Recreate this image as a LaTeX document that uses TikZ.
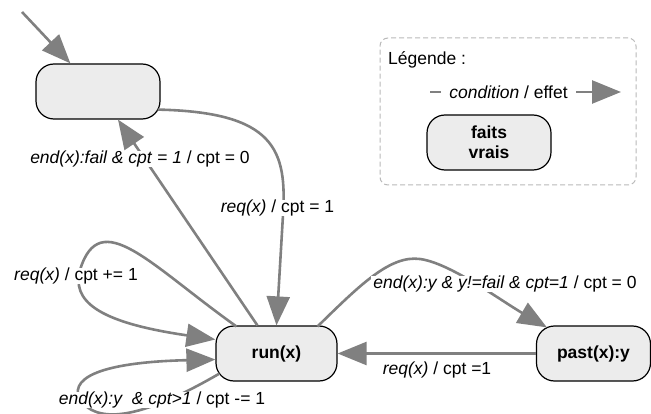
\documentclass[tikz,border=0pt]{standalone}
\usepackage{fontspec}
\setmainfont{Liberation Sans}
\usetikzlibrary{arrows.meta,calc}
\definecolor{edgegray}{RGB}{128,128,128}
\definecolor{nodefill}{RGB}{236,236,236}
\definecolor{legendgray}{RGB}{185,185,185}
\begin{document}
\begin{tikzpicture}[x=1pt,y=-1pt,
  state/.style={draw=black, line width=1.2pt, fill=nodefill, rounded corners=18pt,
    minimum height=55pt, inner sep=0pt, align=center,
    font=\fontsize{17.5}{20}\selectfont\bfseries},
  trans/.style={draw=edgegray, line width=2.6pt, -{Triangle[length=29pt,width=23pt]}},
  lbl/.style={fill=white, inner xsep=2pt, inner ysep=0pt, font=\fontsize{17.5}{20}\selectfont},
]
\useasboundingbox (0,0) rectangle (651,414);

% legend frame
\node[draw=legendgray, dash pattern=on 5pt off 3pt, rounded corners=8pt, line width=1pt,
  minimum width=256pt, minimum height=147pt, inner sep=0pt] (legbox) at (508,111.5) {};

% states
\node[state, minimum width=124pt] (init) at (98,91.5) {};
\node[state, minimum width=121pt] (run) at (276.5,353.5) {run(x)};
\node[state, minimum width=114pt] (past) at (593.5,353.5) {past(x):y};
\node[state, minimum width=124pt] (leg) at (489,142.5) {faits\\vrais};

% initial arrow
\coordinate (start) at (22,12);
\draw[trans] (start) -- ($(init.north west)+(35,0)$);

% init -> run
\draw[trans] ($(init.south east)+(-3,-10)$) .. controls (275,112) and (287,150) .. (283,215)
  -- (run.north);

% run -> init
\draw[trans] ($(run.north west)+(42,0)$) -- ($(init.south)+(20,0)$);

% self loop 1
\draw[trans] ($(run.north west)+(21,1)$) .. controls (150,265) and (100,205) .. (80,270)
  .. controls (72,300) and (95,322) .. ($(run.west)+(0,-14)$);

% self loop 2
\draw[trans] ($(run.south west)+(4,-8)$) .. controls (160,408) and (100,432) .. (79,398)
  .. controls (70,375) and (110,362) .. ($(run.west)+(0,6)$);

% run -> past
\draw[trans] ($(run.north east)+(-20,1)$) .. controls (360,285) and (390,255) .. (420,259)
  .. controls (450,263) and (500,300) .. ($(past.north west)+(11,2)$);

% past -> run
\draw[trans] (past.west) -- (run.east);

% labels
\node[lbl] (l1) at (277.5,208) {\textit{req(x)} / cpt = 1};
\node[lbl] (l2) at (140,159) {\textit{end(x):fail \& cpt} = \textit{1} / cpt = 0};
\node[lbl] (l3) at (76,276) {\textit{req(x)} / cpt += 1};
\node[lbl] (l4) at (162,400) {\textit{end(x):y\ \ \& cpt>1} / cpt -= 1};
\node[lbl] (l5) at (505,284) {\textit{end(x):y \& y!=fail \& cpt=1} / cpt = 0};
\node[lbl, fill=none] (l6) at (437,370) {\textit{req(x)} / cpt =1};

% legend contents
\node[anchor=west, inner sep=0pt, font=\fontsize{17.5}{20}\selectfont] (legtitle) at (388,60) {Légende :};
\coordinate (la) at (430,92);
\coordinate (lb) at (621,92);
\draw[trans] (la) -- (lb);
\node[lbl, inner xsep=8pt] (llab) at (508.5,92) {\textit{condition} / effet};
\end{tikzpicture}
\end{document}
